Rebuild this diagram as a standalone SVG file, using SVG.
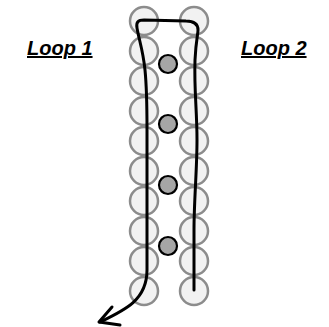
<svg xmlns="http://www.w3.org/2000/svg" width="329" height="327" viewBox="0 0 329 327">
<style>
.b{fill:#f2f2f2;stroke:#8c8c8c;stroke-width:2.5}
.d{fill:#a6a6a6;stroke:#000;stroke-width:2.2}
.t{font-family:"Liberation Sans",Arial,sans-serif;font-weight:bold;font-style:italic;font-size:20px;text-decoration:underline;fill:#000}
.l{fill:none;stroke:#000;stroke-width:3;stroke-linecap:round;stroke-linejoin:round}
</style>
<rect width="329" height="327" fill="#fff"/>
<g id="beads-left">
<circle class="b" cx="144" cy="21" r="14"/><circle class="b" cx="144" cy="51" r="14"/><circle class="b" cx="144" cy="81" r="14"/><circle class="b" cx="144" cy="111" r="14"/><circle class="b" cx="144" cy="141" r="14"/><circle class="b" cx="144" cy="171" r="14"/><circle class="b" cx="144" cy="201" r="14"/><circle class="b" cx="144" cy="231" r="14"/><circle class="b" cx="144" cy="261" r="14"/><circle class="b" cx="144" cy="291" r="14"/>
</g>
<g id="beads-right">
<circle class="b" cx="194" cy="21" r="14"/><circle class="b" cx="194" cy="51" r="14"/><circle class="b" cx="194" cy="81" r="14"/><circle class="b" cx="194" cy="111" r="14"/><circle class="b" cx="194" cy="141" r="14"/><circle class="b" cx="194" cy="171" r="14"/><circle class="b" cx="194" cy="201" r="14"/><circle class="b" cx="194" cy="231" r="14"/><circle class="b" cx="194" cy="261" r="14"/><circle class="b" cx="194" cy="291" r="14"/>
</g>
<g id="beads-middle">
<circle class="d" cx="168" cy="64" r="9"/><circle class="d" cx="168" cy="124" r="9"/><circle class="d" cx="168" cy="185" r="9"/><circle class="d" cx="168" cy="246" r="9"/>
</g>
<g id="connectors">
<path class="l" d="M194,290 L194,230 C194,200 197,170 197,140 C197,110 194,90 195,60 C196,40 198,34 198,30 C198,24 194,21 186,21 L144,20 C138,20 136,22 137,28 C139,40 143,50 145,70 C147,90 147,110 147,130 L147,270 C147,300 125,310 100,322"/>
<path class="l" d="M112,307 L99,322 L120,325"/>
</g>
<g id="label-loop1"><text class="t" x="27" y="55">Loop 1</text></g>
<g id="label-loop2"><text class="t" x="241" y="55">Loop 2</text></g>
</svg>
